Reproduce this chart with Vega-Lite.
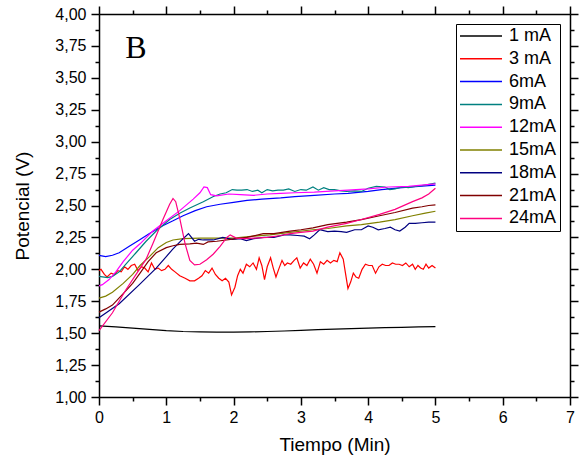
{
  "$schema": "https://vega.github.io/schema/vega-lite/v6.json",
  "width": 471,
  "height": 383,
  "autosize": {"type": "none"},
  "padding": {"left": 99, "top": 14, "right": 10, "bottom": 67},
  "background": "white",
  "config": {
    "view": {"stroke": null},
    "axis": {
      "labelFont": "Liberation Sans",
      "titleFont": "Liberation Sans",
      "labelFontSize": 16,
      "titleFontSize": 19,
      "titleFontWeight": "normal",
      "labelColor": "black",
      "titleColor": "black",
      "domainColor": "black",
      "tickColor": "black",
      "domainWidth": 1.5,
      "tickWidth": 1.5,
      "grid": false,
      "labelFlush": false,
      "labelOverlap": false
    }
  },
  "data": {
    "values": [
      {"s": "1 mA", "t": 0, "v": 1.557}, {"s": "1 mA", "t": 0.25, "v": 1.55}, {"s": "1 mA", "t": 0.5, "v": 1.54}, {"s": "1 mA", "t": 0.75, "v": 1.53}, {"s": "1 mA", "t": 1.0, "v": 1.52}, {"s": "1 mA", "t": 1.25, "v": 1.513}, {"s": "1 mA", "t": 1.5, "v": 1.51}, {"s": "1 mA", "t": 1.75, "v": 1.508}, {"s": "1 mA", "t": 2.0, "v": 1.508}, {"s": "1 mA", "t": 2.25, "v": 1.51}, {"s": "1 mA", "t": 2.5, "v": 1.513}, {"s": "1 mA", "t": 2.75, "v": 1.517}, {"s": "1 mA", "t": 3.0, "v": 1.522}, {"s": "1 mA", "t": 3.25, "v": 1.527}, {"s": "1 mA", "t": 3.5, "v": 1.532}, {"s": "1 mA", "t": 3.75, "v": 1.536}, {"s": "1 mA", "t": 4.0, "v": 1.54}, {"s": "1 mA", "t": 4.25, "v": 1.543}, {"s": "1 mA", "t": 4.5, "v": 1.546}, {"s": "1 mA", "t": 4.75, "v": 1.549}, {"s": "1 mA", "t": 5.0, "v": 1.552},

      {"s": "3 mA", "t": 0.0, "v": 1.99}, {"s": "3 mA", "t": 0.03, "v": 2.0}, {"s": "3 mA", "t": 0.08, "v": 1.96}, {"s": "3 mA", "t": 0.12, "v": 1.94}, {"s": "3 mA", "t": 0.18, "v": 1.97}, {"s": "3 mA", "t": 0.23, "v": 1.96}, {"s": "3 mA", "t": 0.28, "v": 1.99}, {"s": "3 mA", "t": 0.33, "v": 1.98}, {"s": "3 mA", "t": 0.38, "v": 2.02}, {"s": "3 mA", "t": 0.43, "v": 2.0}, {"s": "3 mA", "t": 0.48, "v": 2.03}, {"s": "3 mA", "t": 0.53, "v": 2.04}, {"s": "3 mA", "t": 0.58, "v": 1.99}, {"s": "3 mA", "t": 0.63, "v": 2.02}, {"s": "3 mA", "t": 0.68, "v": 2.01}, {"s": "3 mA", "t": 0.73, "v": 1.98}, {"s": "3 mA", "t": 0.78, "v": 2.05}, {"s": "3 mA", "t": 0.83, "v": 2.0}, {"s": "3 mA", "t": 0.88, "v": 2.01}, {"s": "3 mA", "t": 0.93, "v": 1.99}, {"s": "3 mA", "t": 0.98, "v": 2.0}, {"s": "3 mA", "t": 1.03, "v": 2.03}, {"s": "3 mA", "t": 1.08, "v": 2.0}, {"s": "3 mA", "t": 1.13, "v": 1.98}, {"s": "3 mA", "t": 1.2, "v": 1.95}, {"s": "3 mA", "t": 1.28, "v": 1.93}, {"s": "3 mA", "t": 1.35, "v": 1.91}, {"s": "3 mA", "t": 1.42, "v": 1.91}, {"s": "3 mA", "t": 1.48, "v": 1.93}, {"s": "3 mA", "t": 1.53, "v": 1.95}, {"s": "3 mA", "t": 1.58, "v": 1.99}, {"s": "3 mA", "t": 1.63, "v": 1.97}, {"s": "3 mA", "t": 1.68, "v": 2.01}, {"s": "3 mA", "t": 1.73, "v": 1.96}, {"s": "3 mA", "t": 1.78, "v": 1.93}, {"s": "3 mA", "t": 1.83, "v": 1.91}, {"s": "3 mA", "t": 1.88, "v": 1.93}, {"s": "3 mA", "t": 1.93, "v": 1.9}, {"s": "3 mA", "t": 1.97, "v": 1.8}, {"s": "3 mA", "t": 2.02, "v": 1.86}, {"s": "3 mA", "t": 2.06, "v": 1.95}, {"s": "3 mA", "t": 2.1, "v": 2.0}, {"s": "3 mA", "t": 2.14, "v": 1.97}, {"s": "3 mA", "t": 2.19, "v": 2.04}, {"s": "3 mA", "t": 2.24, "v": 2.02}, {"s": "3 mA", "t": 2.29, "v": 2.05}, {"s": "3 mA", "t": 2.34, "v": 2.0}, {"s": "3 mA", "t": 2.38, "v": 2.09}, {"s": "3 mA", "t": 2.42, "v": 2.03}, {"s": "3 mA", "t": 2.46, "v": 1.92}, {"s": "3 mA", "t": 2.5, "v": 2.02}, {"s": "3 mA", "t": 2.55, "v": 2.09}, {"s": "3 mA", "t": 2.59, "v": 2.01}, {"s": "3 mA", "t": 2.63, "v": 1.94}, {"s": "3 mA", "t": 2.67, "v": 2.0}, {"s": "3 mA", "t": 2.72, "v": 2.07}, {"s": "3 mA", "t": 2.76, "v": 2.03}, {"s": "3 mA", "t": 2.8, "v": 2.05}, {"s": "3 mA", "t": 2.85, "v": 2.04}, {"s": "3 mA", "t": 2.9, "v": 2.07}, {"s": "3 mA", "t": 2.94, "v": 2.09}, {"s": "3 mA", "t": 2.99, "v": 2.01}, {"s": "3 mA", "t": 3.04, "v": 2.05}, {"s": "3 mA", "t": 3.09, "v": 2.03}, {"s": "3 mA", "t": 3.14, "v": 2.08}, {"s": "3 mA", "t": 3.19, "v": 2.04}, {"s": "3 mA", "t": 3.24, "v": 1.97}, {"s": "3 mA", "t": 3.29, "v": 2.06}, {"s": "3 mA", "t": 3.34, "v": 2.04}, {"s": "3 mA", "t": 3.39, "v": 2.07}, {"s": "3 mA", "t": 3.44, "v": 2.05}, {"s": "3 mA", "t": 3.49, "v": 2.07}, {"s": "3 mA", "t": 3.54, "v": 2.06}, {"s": "3 mA", "t": 3.58, "v": 2.13}, {"s": "3 mA", "t": 3.63, "v": 2.08}, {"s": "3 mA", "t": 3.66, "v": 1.98}, {"s": "3 mA", "t": 3.7, "v": 1.85}, {"s": "3 mA", "t": 3.74, "v": 1.9}, {"s": "3 mA", "t": 3.78, "v": 1.97}, {"s": "3 mA", "t": 3.82, "v": 1.94}, {"s": "3 mA", "t": 3.86, "v": 1.93}, {"s": "3 mA", "t": 3.91, "v": 2.0}, {"s": "3 mA", "t": 3.96, "v": 2.04}, {"s": "3 mA", "t": 4.01, "v": 2.03}, {"s": "3 mA", "t": 4.06, "v": 2.03}, {"s": "3 mA", "t": 4.11, "v": 1.97}, {"s": "3 mA", "t": 4.16, "v": 2.02}, {"s": "3 mA", "t": 4.21, "v": 2.04}, {"s": "3 mA", "t": 4.26, "v": 2.03}, {"s": "3 mA", "t": 4.31, "v": 2.03}, {"s": "3 mA", "t": 4.36, "v": 2.05}, {"s": "3 mA", "t": 4.41, "v": 2.04}, {"s": "3 mA", "t": 4.46, "v": 2.04}, {"s": "3 mA", "t": 4.51, "v": 2.03}, {"s": "3 mA", "t": 4.56, "v": 2.05}, {"s": "3 mA", "t": 4.61, "v": 2.02}, {"s": "3 mA", "t": 4.66, "v": 2.04}, {"s": "3 mA", "t": 4.7, "v": 2.0}, {"s": "3 mA", "t": 4.74, "v": 2.03}, {"s": "3 mA", "t": 4.78, "v": 2.01}, {"s": "3 mA", "t": 4.82, "v": 2.0}, {"s": "3 mA", "t": 4.86, "v": 2.04}, {"s": "3 mA", "t": 4.9, "v": 2.01}, {"s": "3 mA", "t": 4.95, "v": 2.03}, {"s": "3 mA", "t": 5.0, "v": 2.01},

      {"s": "6mA", "t": 0, "v": 2.11}, {"s": "6mA", "t": 0.1, "v": 2.1}, {"s": "6mA", "t": 0.2, "v": 2.11}, {"s": "6mA", "t": 0.3, "v": 2.13}, {"s": "6mA", "t": 0.45, "v": 2.18}, {"s": "6mA", "t": 0.6, "v": 2.23}, {"s": "6mA", "t": 0.75, "v": 2.28}, {"s": "6mA", "t": 0.94, "v": 2.34}, {"s": "6mA", "t": 1.1, "v": 2.38}, {"s": "6mA", "t": 1.25, "v": 2.42}, {"s": "6mA", "t": 1.43, "v": 2.46}, {"s": "6mA", "t": 1.6, "v": 2.49}, {"s": "6mA", "t": 1.8, "v": 2.51}, {"s": "6mA", "t": 2.0, "v": 2.525}, {"s": "6mA", "t": 2.2, "v": 2.54}, {"s": "6mA", "t": 2.42, "v": 2.55}, {"s": "6mA", "t": 2.7, "v": 2.56}, {"s": "6mA", "t": 2.91, "v": 2.57}, {"s": "6mA", "t": 3.2, "v": 2.58}, {"s": "6mA", "t": 3.5, "v": 2.59}, {"s": "6mA", "t": 3.7, "v": 2.595}, {"s": "6mA", "t": 4.0, "v": 2.61}, {"s": "6mA", "t": 4.2, "v": 2.625}, {"s": "6mA", "t": 4.5, "v": 2.64}, {"s": "6mA", "t": 4.75, "v": 2.65}, {"s": "6mA", "t": 5.0, "v": 2.66},

      {"s": "9mA", "t": 0, "v": 1.945}, {"s": "9mA", "t": 0.13, "v": 1.935}, {"s": "9mA", "t": 0.2, "v": 1.945}, {"s": "9mA", "t": 0.3, "v": 1.98}, {"s": "9mA", "t": 0.4, "v": 2.04}, {"s": "9mA", "t": 0.55, "v": 2.13}, {"s": "9mA", "t": 0.7, "v": 2.22}, {"s": "9mA", "t": 0.85, "v": 2.3}, {"s": "9mA", "t": 1.05, "v": 2.39}, {"s": "9mA", "t": 1.2, "v": 2.44}, {"s": "9mA", "t": 1.35, "v": 2.48}, {"s": "9mA", "t": 1.55, "v": 2.53}, {"s": "9mA", "t": 1.7, "v": 2.57}, {"s": "9mA", "t": 1.8, "v": 2.59}, {"s": "9mA", "t": 1.89, "v": 2.6}, {"s": "9mA", "t": 1.98, "v": 2.625}, {"s": "9mA", "t": 2.05, "v": 2.62}, {"s": "9mA", "t": 2.12, "v": 2.62}, {"s": "9mA", "t": 2.2, "v": 2.625}, {"s": "9mA", "t": 2.28, "v": 2.61}, {"s": "9mA", "t": 2.36, "v": 2.62}, {"s": "9mA", "t": 2.42, "v": 2.6}, {"s": "9mA", "t": 2.5, "v": 2.625}, {"s": "9mA", "t": 2.58, "v": 2.615}, {"s": "9mA", "t": 2.66, "v": 2.62}, {"s": "9mA", "t": 2.74, "v": 2.62}, {"s": "9mA", "t": 2.82, "v": 2.63}, {"s": "9mA", "t": 2.91, "v": 2.61}, {"s": "9mA", "t": 3.0, "v": 2.625}, {"s": "9mA", "t": 3.08, "v": 2.62}, {"s": "9mA", "t": 3.18, "v": 2.645}, {"s": "9mA", "t": 3.26, "v": 2.62}, {"s": "9mA", "t": 3.34, "v": 2.64}, {"s": "9mA", "t": 3.42, "v": 2.625}, {"s": "9mA", "t": 3.5, "v": 2.625}, {"s": "9mA", "t": 3.6, "v": 2.615}, {"s": "9mA", "t": 3.68, "v": 2.61}, {"s": "9mA", "t": 3.8, "v": 2.615}, {"s": "9mA", "t": 3.9, "v": 2.61}, {"s": "9mA", "t": 4.0, "v": 2.635}, {"s": "9mA", "t": 4.12, "v": 2.65}, {"s": "9mA", "t": 4.25, "v": 2.645}, {"s": "9mA", "t": 4.32, "v": 2.625}, {"s": "9mA", "t": 4.4, "v": 2.63}, {"s": "9mA", "t": 4.5, "v": 2.645}, {"s": "9mA", "t": 4.6, "v": 2.64}, {"s": "9mA", "t": 4.7, "v": 2.65}, {"s": "9mA", "t": 4.8, "v": 2.655}, {"s": "9mA", "t": 4.9, "v": 2.665}, {"s": "9mA", "t": 5.0, "v": 2.675},

      {"s": "12mA", "t": 0, "v": 1.87}, {"s": "12mA", "t": 0.05, "v": 1.88}, {"s": "12mA", "t": 0.15, "v": 1.92}, {"s": "12mA", "t": 0.25, "v": 1.98}, {"s": "12mA", "t": 0.36, "v": 2.06}, {"s": "12mA", "t": 0.5, "v": 2.15}, {"s": "12mA", "t": 0.61, "v": 2.2}, {"s": "12mA", "t": 0.8, "v": 2.3}, {"s": "12mA", "t": 1.0, "v": 2.38}, {"s": "12mA", "t": 1.2, "v": 2.46}, {"s": "12mA", "t": 1.4, "v": 2.55}, {"s": "12mA", "t": 1.5, "v": 2.6}, {"s": "12mA", "t": 1.56, "v": 2.645}, {"s": "12mA", "t": 1.61, "v": 2.64}, {"s": "12mA", "t": 1.66, "v": 2.585}, {"s": "12mA", "t": 1.75, "v": 2.575}, {"s": "12mA", "t": 1.93, "v": 2.59}, {"s": "12mA", "t": 2.1, "v": 2.585}, {"s": "12mA", "t": 2.3, "v": 2.58}, {"s": "12mA", "t": 2.5, "v": 2.59}, {"s": "12mA", "t": 2.7, "v": 2.595}, {"s": "12mA", "t": 2.91, "v": 2.6}, {"s": "12mA", "t": 3.2, "v": 2.605}, {"s": "12mA", "t": 3.5, "v": 2.615}, {"s": "12mA", "t": 3.7, "v": 2.62}, {"s": "12mA", "t": 4.0, "v": 2.63}, {"s": "12mA", "t": 4.3, "v": 2.645}, {"s": "12mA", "t": 4.6, "v": 2.65}, {"s": "12mA", "t": 4.8, "v": 2.66}, {"s": "12mA", "t": 5.0, "v": 2.67},

      {"s": "15mA", "t": 0, "v": 1.775}, {"s": "15mA", "t": 0.1, "v": 1.79}, {"s": "15mA", "t": 0.2, "v": 1.82}, {"s": "15mA", "t": 0.36, "v": 1.89}, {"s": "15mA", "t": 0.5, "v": 1.96}, {"s": "15mA", "t": 0.61, "v": 2.03}, {"s": "15mA", "t": 0.75, "v": 2.1}, {"s": "15mA", "t": 0.88, "v": 2.17}, {"s": "15mA", "t": 1.0, "v": 2.21}, {"s": "15mA", "t": 1.1, "v": 2.23}, {"s": "15mA", "t": 1.25, "v": 2.24}, {"s": "15mA", "t": 1.5, "v": 2.245}, {"s": "15mA", "t": 1.7, "v": 2.245}, {"s": "15mA", "t": 2.0, "v": 2.245}, {"s": "15mA", "t": 2.3, "v": 2.26}, {"s": "15mA", "t": 2.54, "v": 2.27}, {"s": "15mA", "t": 2.84, "v": 2.29}, {"s": "15mA", "t": 3.18, "v": 2.31}, {"s": "15mA", "t": 3.4, "v": 2.32}, {"s": "15mA", "t": 3.68, "v": 2.34}, {"s": "15mA", "t": 3.9, "v": 2.35}, {"s": "15mA", "t": 4.17, "v": 2.37}, {"s": "15mA", "t": 4.4, "v": 2.39}, {"s": "15mA", "t": 4.66, "v": 2.42}, {"s": "15mA", "t": 4.85, "v": 2.44}, {"s": "15mA", "t": 5.0, "v": 2.455},

      {"s": "18mA", "t": 0, "v": 1.62}, {"s": "18mA", "t": 0.3, "v": 1.73}, {"s": "18mA", "t": 0.6, "v": 1.88}, {"s": "18mA", "t": 0.85, "v": 2.01}, {"s": "18mA", "t": 1.0, "v": 2.1}, {"s": "18mA", "t": 1.1, "v": 2.16}, {"s": "18mA", "t": 1.25, "v": 2.24}, {"s": "18mA", "t": 1.33, "v": 2.28}, {"s": "18mA", "t": 1.42, "v": 2.22}, {"s": "18mA", "t": 1.48, "v": 2.235}, {"s": "18mA", "t": 1.55, "v": 2.23}, {"s": "18mA", "t": 1.7, "v": 2.23}, {"s": "18mA", "t": 1.84, "v": 2.25}, {"s": "18mA", "t": 1.98, "v": 2.235}, {"s": "18mA", "t": 2.1, "v": 2.24}, {"s": "18mA", "t": 2.19, "v": 2.225}, {"s": "18mA", "t": 2.3, "v": 2.24}, {"s": "18mA", "t": 2.45, "v": 2.25}, {"s": "18mA", "t": 2.6, "v": 2.25}, {"s": "18mA", "t": 2.75, "v": 2.27}, {"s": "18mA", "t": 2.84, "v": 2.27}, {"s": "18mA", "t": 2.95, "v": 2.265}, {"s": "18mA", "t": 3.05, "v": 2.26}, {"s": "18mA", "t": 3.13, "v": 2.24}, {"s": "18mA", "t": 3.2, "v": 2.27}, {"s": "18mA", "t": 3.28, "v": 2.31}, {"s": "18mA", "t": 3.4, "v": 2.295}, {"s": "18mA", "t": 3.5, "v": 2.3}, {"s": "18mA", "t": 3.6, "v": 2.295}, {"s": "18mA", "t": 3.68, "v": 2.29}, {"s": "18mA", "t": 3.8, "v": 2.31}, {"s": "18mA", "t": 3.9, "v": 2.31}, {"s": "18mA", "t": 4.0, "v": 2.34}, {"s": "18mA", "t": 4.07, "v": 2.33}, {"s": "18mA", "t": 4.15, "v": 2.31}, {"s": "18mA", "t": 4.25, "v": 2.32}, {"s": "18mA", "t": 4.33, "v": 2.33}, {"s": "18mA", "t": 4.4, "v": 2.31}, {"s": "18mA", "t": 4.47, "v": 2.3}, {"s": "18mA", "t": 4.55, "v": 2.33}, {"s": "18mA", "t": 4.61, "v": 2.36}, {"s": "18mA", "t": 4.7, "v": 2.36}, {"s": "18mA", "t": 4.8, "v": 2.365}, {"s": "18mA", "t": 4.9, "v": 2.37}, {"s": "18mA", "t": 5.0, "v": 2.37},

      {"s": "21mA", "t": 0, "v": 1.665}, {"s": "21mA", "t": 0.1, "v": 1.69}, {"s": "21mA", "t": 0.2, "v": 1.72}, {"s": "21mA", "t": 0.36, "v": 1.81}, {"s": "21mA", "t": 0.5, "v": 1.89}, {"s": "21mA", "t": 0.61, "v": 1.97}, {"s": "21mA", "t": 0.73, "v": 2.06}, {"s": "21mA", "t": 0.85, "v": 2.13}, {"s": "21mA", "t": 1.0, "v": 2.17}, {"s": "21mA", "t": 1.1, "v": 2.185}, {"s": "21mA", "t": 1.2, "v": 2.195}, {"s": "21mA", "t": 1.35, "v": 2.2}, {"s": "21mA", "t": 1.45, "v": 2.205}, {"s": "21mA", "t": 1.55, "v": 2.195}, {"s": "21mA", "t": 1.62, "v": 2.215}, {"s": "21mA", "t": 1.75, "v": 2.22}, {"s": "21mA", "t": 2.04, "v": 2.24}, {"s": "21mA", "t": 2.2, "v": 2.25}, {"s": "21mA", "t": 2.44, "v": 2.28}, {"s": "21mA", "t": 2.6, "v": 2.28}, {"s": "21mA", "t": 2.84, "v": 2.3}, {"s": "21mA", "t": 3.0, "v": 2.31}, {"s": "21mA", "t": 3.18, "v": 2.325}, {"s": "21mA", "t": 3.4, "v": 2.35}, {"s": "21mA", "t": 3.68, "v": 2.37}, {"s": "21mA", "t": 3.9, "v": 2.39}, {"s": "21mA", "t": 4.17, "v": 2.42}, {"s": "21mA", "t": 4.4, "v": 2.445}, {"s": "21mA", "t": 4.66, "v": 2.48}, {"s": "21mA", "t": 4.8, "v": 2.49}, {"s": "21mA", "t": 4.9, "v": 2.5}, {"s": "21mA", "t": 5.0, "v": 2.505},

      {"s": "24mA", "t": 0, "v": 1.52}, {"s": "24mA", "t": 0.2, "v": 1.66}, {"s": "24mA", "t": 0.4, "v": 1.84}, {"s": "24mA", "t": 0.6, "v": 2.0}, {"s": "24mA", "t": 0.7, "v": 2.08}, {"s": "24mA", "t": 0.8, "v": 2.2}, {"s": "24mA", "t": 0.95, "v": 2.39}, {"s": "24mA", "t": 1.05, "v": 2.51}, {"s": "24mA", "t": 1.1, "v": 2.555}, {"s": "24mA", "t": 1.14, "v": 2.53}, {"s": "24mA", "t": 1.2, "v": 2.4}, {"s": "24mA", "t": 1.28, "v": 2.2}, {"s": "24mA", "t": 1.35, "v": 2.07}, {"s": "24mA", "t": 1.42, "v": 2.035}, {"s": "24mA", "t": 1.5, "v": 2.04}, {"s": "24mA", "t": 1.6, "v": 2.075}, {"s": "24mA", "t": 1.7, "v": 2.12}, {"s": "24mA", "t": 1.8, "v": 2.18}, {"s": "24mA", "t": 1.9, "v": 2.25}, {"s": "24mA", "t": 1.95, "v": 2.27}, {"s": "24mA", "t": 2.04, "v": 2.245}, {"s": "24mA", "t": 2.15, "v": 2.24}, {"s": "24mA", "t": 2.3, "v": 2.245}, {"s": "24mA", "t": 2.5, "v": 2.25}, {"s": "24mA", "t": 2.7, "v": 2.265}, {"s": "24mA", "t": 2.84, "v": 2.28}, {"s": "24mA", "t": 3.0, "v": 2.29}, {"s": "24mA", "t": 3.18, "v": 2.3}, {"s": "24mA", "t": 3.4, "v": 2.33}, {"s": "24mA", "t": 3.68, "v": 2.36}, {"s": "24mA", "t": 3.9, "v": 2.39}, {"s": "24mA", "t": 4.17, "v": 2.43}, {"s": "24mA", "t": 4.4, "v": 2.47}, {"s": "24mA", "t": 4.66, "v": 2.53}, {"s": "24mA", "t": 4.8, "v": 2.56}, {"s": "24mA", "t": 4.9, "v": 2.59}, {"s": "24mA", "t": 5.0, "v": 2.635}
    ]
  },
  "layer": [
    {
      "mark": {"type": "line", "strokeWidth": 1.2},
      "encoding": {
        "x": {
          "field": "t", "type": "quantitative",
          "scale": {"domain": [0, 7], "nice": false, "zero": false},
          "axis": {
            "orient": "bottom",
            "title": "Tiempo (Min)",
            "values": [0, 0.5, 1, 1.5, 2, 2.5, 3, 3.5, 4, 4.5, 5, 5.5, 6, 6.5, 7],
            "labelExpr": "datum.value % 1 == 0 ? format(datum.value, 'd') : ''",
            "tickSize": {"condition": {"test": "datum.value % 1 == 0", "value": 8}, "value": 4},
            "labelPadding": 4,
            "titlePadding": 10
          }
        },
        "y": {
          "field": "v", "type": "quantitative",
          "scale": {"domain": [1, 4], "nice": false, "zero": false},
          "axis": {
            "orient": "left",
            "title": "Potencial (V)",
            "values": [1, 1.125, 1.25, 1.375, 1.5, 1.625, 1.75, 1.875, 2, 2.125, 2.25, 2.375, 2.5, 2.625, 2.75, 2.875, 3, 3.125, 3.25, 3.375, 3.5, 3.625, 3.75, 3.875, 4],
            "labelExpr": "(datum.value * 4) % 1 == 0 ? replace(format(datum.value, '.2f'), '.', ',') : ''",
            "tickSize": {"condition": {"test": "(datum.value * 4) % 1 == 0", "value": 8}, "value": 4},
            "labelPadding": 5,
            "titlePadding": 22
          }
        },
        "color": {
          "field": "s", "type": "nominal",
          "scale": {
            "domain": ["1 mA", "3 mA", "6mA", "9mA", "12mA", "15mA", "18mA", "21mA", "24mA"],
            "range": ["#000000", "#ff0000", "#0000ff", "#008080", "#ff00ff", "#808000", "#000080", "#800000", "#ff0080"]
          },
          "legend": {
            "title": null,
            "orient": "none",
            "legendX": 357,
            "legendY": 10,
            "symbolType": "stroke",
            "symbolSize": 1764,
            "symbolStrokeWidth": 1.5,
            "labelFont": "Liberation Sans",
            "labelFontSize": 18,
            "labelColor": "black",
            "labelOffset": 6,
            "clipHeight": 18,
            "rowPadding": 4.8,
            "padding": 3,
            "strokeColor": "black",
            "fillColor": "white"
          }
        }
      }
    },
    {
      "mark": {"type": "line", "opacity": 0},
      "encoding": {
        "x": {
          "field": "t", "type": "quantitative",
          "axis": {
            "orient": "top",
            "title": null,
            "labels": false,
            "values": [0, 0.5, 1, 1.5, 2, 2.5, 3, 3.5, 4, 4.5, 5, 5.5, 6, 6.5, 7],
            "tickSize": {"condition": {"test": "datum.value % 1 == 0", "value": 8}, "value": 4}
          }
        },
        "y": {
          "field": "v", "type": "quantitative",
          "axis": {
            "orient": "right",
            "title": null,
            "labels": false,
            "values": [1, 1.125, 1.25, 1.375, 1.5, 1.625, 1.75, 1.875, 2, 2.125, 2.25, 2.375, 2.5, 2.625, 2.75, 2.875, 3, 3.125, 3.25, 3.375, 3.5, 3.625, 3.75, 3.875, 4],
            "tickSize": {"condition": {"test": "(datum.value * 4) % 1 == 0", "value": 8}, "value": 4}
          }
        },
        "detail": {"field": "s"}
      }
    },
    {
      "data": {"values": [{"label": "B"}]},
      "mark": {"type": "text", "font": "Liberation Serif", "fontSize": 32, "color": "black", "align": "center", "baseline": "middle"},
      "encoding": {
        "x": {"datum": 0.55, "type": "quantitative", "axis": null},
        "y": {"datum": 3.73, "type": "quantitative", "axis": null},
        "text": {"field": "label"}
      }
    }
  ],
  "resolve": {"axis": {"x": "independent", "y": "independent"}}
}
